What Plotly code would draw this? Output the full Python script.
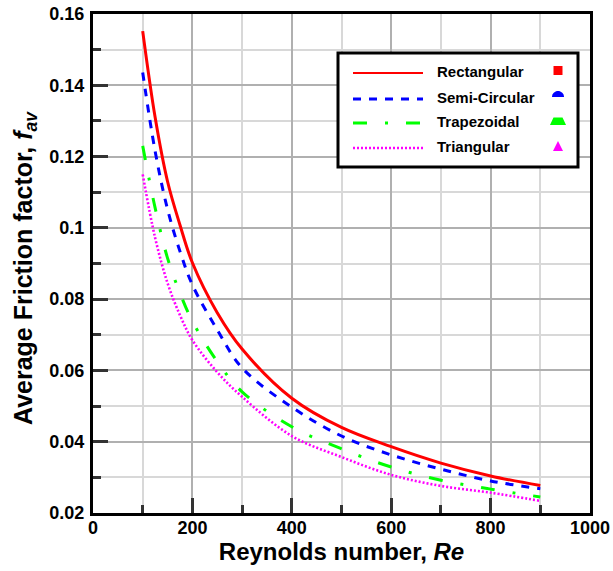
import math
import plotly.graph_objects as go

# Average friction factor vs Reynolds number for four channel cross-sections
reynolds = [100, 125, 150, 175, 200, 250, 300, 400, 500, 600, 700, 800, 900]
f_rectangular = [0.1552, 0.1310, 0.1130, 0.1008, 0.0902, 0.0762, 0.0660, 0.0522, 0.0440, 0.0386, 0.0340, 0.0304, 0.0277]
f_semicircular = [0.1436, 0.1215, 0.1052, 0.0934, 0.0840, 0.0714, 0.0607, 0.0497, 0.0416, 0.0363, 0.0323, 0.0290, 0.0268]
f_trapezoidal = [0.1230, 0.1056, 0.0915, 0.0817, 0.0738, 0.0625, 0.0540, 0.0442, 0.0380, 0.0329, 0.0292, 0.0267, 0.0245]
f_triangular = [0.1150, 0.0972, 0.0845, 0.0755, 0.0685, 0.0595, 0.0526, 0.0416, 0.0357, 0.0307, 0.0276, 0.0257, 0.0234]

series_names = ["Rectangular", "Semi-Circular", "Trapezoidal", "Triangular"]
series_colors = ["#ff0000", "#0000ff", "#00ff00", "#ff00ff"]
series_dash = ["solid", "8px,8px", "14px,18px,3px,18px", "2px,2px"]
series_width = [3, 3, 3, 2.6]

x_tick_vals = [0, 200, 400, 600, 800, 1000]
x_tick_text = ["0", "200", "400", "600", "800", "1000"]
x_minor_vals = [100, 300, 500, 700, 900]
y_tick_vals = [0.02, 0.04, 0.06, 0.08, 0.10, 0.12, 0.14, 0.16]
y_tick_text = ["0.02", "0.04", "0.06", "0.08", "0.1", "0.12", "0.14", "0.16"]
y_minor_vals = [0.03, 0.05, 0.07, 0.09, 0.11, 0.13, 0.15]

FONT = "Liberation Sans"
W, H = 613, 571
M_L, M_R, M_T, M_B = 93, 23, 14, 58
PW, PH = W - M_L - M_R, H - M_T - M_B


def px(x):
    return (x - M_L) / PW


def py(y):
    return (H - M_B - y) / PH


def path(points):
    return "M " + " L ".join(f"{px(a)},{py(b)}" for a, b in points) + " Z"


fig = go.Figure()
for ys, name, col, dash, lw in zip(
    [f_rectangular, f_semicircular, f_trapezoidal, f_triangular],
    series_names, series_colors, series_dash, series_width,
):
    fig.add_trace(go.Scatter(
        x=reynolds, y=ys, mode="lines", name=name, showlegend=False,
        line=dict(color=col, width=lw, dash=dash, shape="spline", smoothing=1.0),
    ))

# Legend box drawn by hand (line sample, label and cross-section glyph)
shapes = [dict(type="rect", xref="paper", yref="paper",
               x0=px(338), x1=px(578), y0=py(167), y1=py(53),
               line=dict(color="black", width=3), fillcolor="white", layer="above")]
annotations = []
row_y = [71, 97, 121, 146]
for ry, name, col, dash, lw in zip(row_y, series_names, series_colors, series_dash, series_width):
    shapes.append(dict(type="line", xref="paper", yref="paper",
                       x0=px(353), x1=px(423), y0=py(ry + 2), y1=py(ry + 2),
                       line=dict(color=col, width=2 if dash == "solid" else lw, dash=dash), layer="above"))
    annotations.append(dict(xref="paper", yref="paper", x=px(435), y=py(ry),
                            xanchor="left", yanchor="middle", showarrow=False, text=name,
                            font=dict(family=FONT, size=15, color="black", weight="bold")))

cx = 558
# square
shapes.append(dict(type="rect", xref="paper", yref="paper",
                   x0=px(cx - 4.5), x1=px(cx + 4.5), y0=py(row_y[0] + 4), y1=py(row_y[0] - 5),
                   fillcolor=series_colors[0], line=dict(width=0), layer="above"))
# semicircle (dome)
dome = [(cx + 6 * math.cos(t * math.pi / 20), row_y[1] - 6 * math.sin(t * math.pi / 20)) for t in range(21)]
shapes.append(dict(type="path", xref="paper", yref="paper", path=path(dome),
                   fillcolor=series_colors[1], line=dict(width=0), layer="above"))
# trapezoid
trap = [(cx - 8, row_y[2] + 4), (cx + 8, row_y[2] + 4), (cx + 4.5, row_y[2] - 3.5), (cx - 4.5, row_y[2] - 3.5)]
shapes.append(dict(type="path", xref="paper", yref="paper", path=path(trap),
                   fillcolor=series_colors[2], line=dict(width=0), layer="above"))
# triangle
tri = [(cx - 5, row_y[3] + 5), (cx + 5, row_y[3] + 5), (cx, row_y[3] - 5)]
shapes.append(dict(type="path", xref="paper", yref="paper", path=path(tri),
                   fillcolor=series_colors[3], line=dict(width=0), layer="above"))

# vertical axis title
annotations.append(dict(xref="paper", yref="paper", x=px(25), y=py(268),
                        xanchor="center", yanchor="middle", showarrow=False, textangle=-90,
                        text="Average Friction factor, <i>f</i><sub><i>av</i></sub>",
                        font=dict(family=FONT, size=25, color="black", weight="bold")))

axis_common = dict(
    automargin=False,
    ticks="inside", ticklen=15, tickwidth=3, tickcolor="#333333",
    showline=True, linewidth=3, linecolor="black", mirror=True,
    showgrid=True, gridcolor="#b0b0b0", gridwidth=1.5, zeroline=False,
    tickfont=dict(family=FONT, size=18, color="black", weight="bold"),
)
minor_common = dict(tickmode="array", ticks="inside", ticklen=8, tickwidth=3,
                    tickcolor="#333333", showgrid=True, gridcolor="#d8d8d8", gridwidth=1.5)

fig.update_layout(
    width=W, height=H,
    margin=dict(l=M_L, r=M_R, t=M_T, b=M_B, autoexpand=False),
    plot_bgcolor="white", paper_bgcolor="white",
    shapes=shapes, annotations=annotations,
    xaxis=dict(
        range=[0, 1000], tickmode="array", tickvals=x_tick_vals, ticktext=x_tick_text,
        minor=dict(tickvals=x_minor_vals, **minor_common),
        ticklabelstandoff=-4,
        title=dict(text="Reynolds number, <i>Re</i>", standoff=2,
                   font=dict(family=FONT, size=24, color="black", weight="bold")),
        **axis_common,
    ),
    yaxis=dict(
        range=[0.02, 0.16], tickmode="array", tickvals=y_tick_vals, ticktext=y_tick_text,
        minor=dict(tickvals=y_minor_vals, **minor_common),
        ticklabelstandoff=2,
        **axis_common,
    ),
)

fig.write_html("out.html")
